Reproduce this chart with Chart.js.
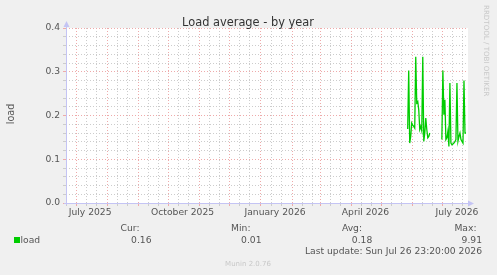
<!DOCTYPE html>
<html><head><meta charset="utf-8">
<script src="https://cdn.jsdelivr.net/npm/chart.js@4/dist/chart.umd.min.js"></script>
<style>html,body{margin:0;padding:0;background:#f0f0f0;}#wrap{width:497px;height:275px;}</style>
</head><body><div id="wrap"><canvas id="c" width="497" height="275"></canvas></div>
<script>
// ---- data (x = days since 2025-06-21, the start of the 400-day window) ----
const chartTitle = 'Load average - by year';
const yAxisLabel = 'load';
const seriesName = 'load';
const monthStartDays = [10, 41, 72, 102, 133, 163, 194, 225, 253, 284, 314, 345, 375];
const xLabelText = ['July 2025', 'October 2025', 'January 2026', 'April 2026', 'July 2026'];
const xLabelDays = [24, 116, 208, 298, 389];
const yTickLabels = ['0.0', '0.1', '0.2', '0.3', '0.4'];
const seg1StartDay = 340;
const seg1Values = [0.169, 0.303, 0.137, 0.152, 0.183, 0.178, 0.175, 0.171, 0.334, 0.229, 0.232, 0.213, 0.168, 0.175, 0.165, 0.334, 0.141, 0.160, 0.194, 0.168, 0.149, 0.152, 0.160];
const seg2StartDay = 374;
const seg2Values = [0.145, 0.303, 0.202, 0.236, 0.145, 0.149, 0.164, 0.129, 0.274, 0.137, 0.133, 0.135, 0.137, 0.140, 0.145, 0.274, 0.141, 0.152, 0.160, 0.145, 0.141, 0.137, 0.280, 0.160, 0.160];
const legendStatNames = ['Cur:', 'Min:', 'Avg:', 'Max:'];
const legendStatValues = ['0.16', '0.01', '0.18', '9.91'];
const lastUpdate = 'Last update: Sun Jul 26 23:20:00 2026';
const footer = 'Munin 2.0.76';
const watermark = 'RRDTOOL / TOBI OETIKER';

// ---- build ----
const points = [];
seg1Values.forEach((v, i) => points.push({x: seg1StartDay + i, y: v}));
points.push({x: seg1StartDay + seg1Values.length, y: null});
seg2Values.forEach((v, i) => points.push({x: seg2StartDay + i, y: v}));

const minorDays = [0];
monthStartDays.forEach(d => { if (d + 10 < 400) minorDays.push(d + 10); if (d + 20 < 400) minorDays.push(d + 20); });
const xTickValues = [...new Set([...monthStartDays, ...minorDays, ...xLabelDays])].sort((a, b) => a - b);
const yTickValues = [];
for (let k = 0; k <= 20; k++) yTickValues.push(k / 50);
const isMajorY = v => Math.abs(v * 10 - Math.round(v * 10)) < 1e-9;

const MAJOR = '#eeaaaa', MINOR = '#cccccc', AXIS = '#c4c4f4', TXT = '#555555';
const FONT = '"DejaVu Sans", sans-serif';

function xGridColor(v) {
  if (monthStartDays.includes(v)) return MAJOR;
  if (minorDays.includes(v)) return MINOR;
  return 'rgba(0,0,0,0)';
}

const decor = {
  id: 'decor',
  beforeDraw(chart) {
    const {ctx, chartArea: a} = chart;
    ctx.save();
    ctx.fillStyle = '#f0f0f0';
    ctx.fillRect(0, 0, chart.width, chart.height);
    ctx.fillStyle = '#ffffff';
    ctx.fillRect(a.left, a.top, a.right - a.left, a.bottom - a.top);
    ctx.restore();
  },
  afterDraw(chart) {
    const {ctx, chartArea: a} = chart;
    ctx.save();
    // axes
    ctx.strokeStyle = AXIS; ctx.lineWidth = 1;
    ctx.beginPath();
    ctx.moveTo(a.left + 0.5, a.bottom + 2); ctx.lineTo(a.left + 0.5, a.top - 4);
    ctx.moveTo(a.left - 2, a.bottom + 0.5); ctx.lineTo(a.right + 3, a.bottom + 0.5);
    ctx.stroke();
    ctx.fillStyle = AXIS;
    ctx.beginPath();
    ctx.moveTo(a.left - 2.5, a.top - 1); ctx.lineTo(a.left + 3.5, a.top - 1); ctx.lineTo(a.left + 0.5, a.top - 7); ctx.closePath(); ctx.fill();
    ctx.beginPath();
    ctx.moveTo(a.right + 0, a.bottom - 2.5); ctx.lineTo(a.right + 0, a.bottom + 3.5); ctx.lineTo(a.right + 6, a.bottom + 0.5); ctx.closePath(); ctx.fill();

    // title
    ctx.fillStyle = '#333333';
    ctx.font = '11.4px ' + FONT;
    ctx.textAlign = 'center'; ctx.textBaseline = 'alphabetic';
    ctx.fillText(chartTitle, 248, 25.5);

    // y axis label
    ctx.save();
    ctx.translate(11.5, 114);
    ctx.rotate(-Math.PI / 2);
    ctx.font = '9.6px ' + FONT;
    ctx.fillStyle = TXT;
    ctx.textAlign = 'center'; ctx.textBaseline = 'middle';
    ctx.fillText(yAxisLabel, 0, 0);
    ctx.restore();

    // watermark
    ctx.save();
    ctx.translate(485.5, 5);
    ctx.rotate(Math.PI / 2);
    ctx.font = '7.1px ' + FONT;
    ctx.fillStyle = '#c8c8c8';
    ctx.textAlign = 'left'; ctx.textBaseline = 'middle';
    ctx.fillText(watermark, 0, 0);
    ctx.restore();

    // legend
    ctx.fillStyle = '#00cc00';
    ctx.fillRect(14, 237, 6, 6);
    ctx.font = '9.2px ' + FONT;
    ctx.fillStyle = TXT;
    ctx.textAlign = 'left';
    ctx.fillText(seriesName, 20.5, 243);
    const nameRight = [139.5, 250.5, 362, 476.5];
    const valRight = [151.5, 261.5, 372.3, 482];
    ctx.textAlign = 'right';
    legendStatNames.forEach((n, i) => ctx.fillText(n, nameRight[i], 230.5));
    legendStatValues.forEach((n, i) => ctx.fillText(n, valRight[i], 243));
    ctx.fillText(lastUpdate, 482, 254);

    ctx.font = '7px ' + FONT;
    ctx.fillStyle = '#c8c8c8';
    ctx.textAlign = 'center';
    ctx.fillText(footer, 248, 266);
    ctx.restore();
  }
};

new Chart(document.getElementById('c'), {
  type: 'line',
  data: {
    datasets: [{
      label: seriesName,
      data: points,
      borderColor: '#00cc00',
      borderWidth: 1.3,
      pointRadius: 0,
      tension: 0,
      spanGaps: false,
      fill: false
    }]
  },
  options: {
    responsive: false,
    devicePixelRatio: 1,
    animation: false,
    layout: {padding: {left: 0, top: 28, right: 29, bottom: 0}},
    plugins: {legend: {display: false}, title: {display: false}, tooltip: {enabled: false}},
    scales: {
      x: {
        type: 'linear', min: 0, max: 400,
        afterFit: s => { s.height = 72; },
        afterBuildTicks: s => { s.ticks = xTickValues.map(v => ({value: v})); },
        ticks: {
          autoSkip: false, maxRotation: 0, minRotation: 0, padding: 1,
          color: TXT, font: {family: FONT, size: 9.2},
          callback: v => { const i = xLabelDays.indexOf(v); return i >= 0 ? xLabelText[i] : ''; }
        },
        grid: {
          color: c => (c.tick ? xGridColor(c.tick.value) : 'rgba(0,0,0,0)'),
          tickColor: c => (c.tick ? xGridColor(c.tick.value) : 'rgba(0,0,0,0)'),
          tickLength: 3, lineWidth: 1
        },
        border: {display: false, dash: [1, 2]}
      },
      y: {
        min: 0, max: 0.4,
        afterFit: s => { s.width = 66; },
        afterBuildTicks: s => { s.ticks = yTickValues.map(v => ({value: v})); },
        ticks: {
          autoSkip: false, padding: 3, color: TXT, font: {family: FONT, size: 9.2},
          callback: v => isMajorY(v) ? yTickLabels[Math.round(v * 10)] : ''
        },
        grid: {
          color: c => (c.tick ? (isMajorY(c.tick.value) ? MAJOR : MINOR) : MINOR),
          tickColor: c => (c.tick ? (isMajorY(c.tick.value) ? MAJOR : MINOR) : MINOR),
          tickLength: 3, lineWidth: 1
        },
        border: {display: false, dash: [1, 2]}
      }
    }
  },
  plugins: [decor]
});
</script>
</body></html>
